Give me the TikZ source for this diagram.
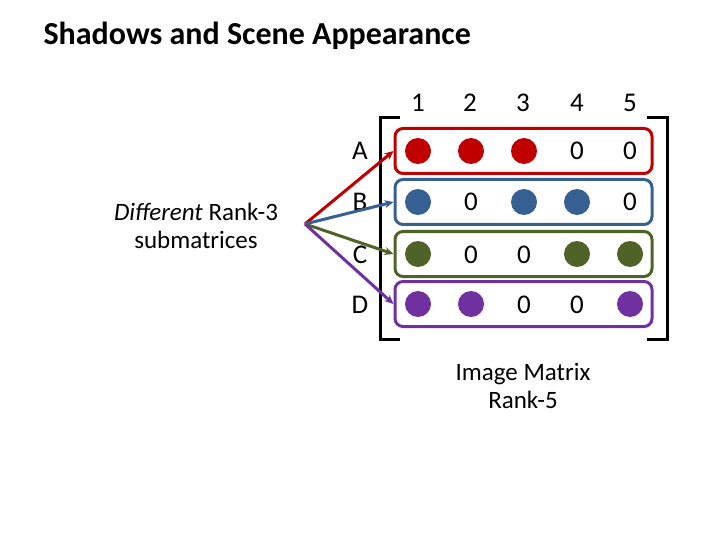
\documentclass[tikz,border=0pt]{standalone}
\usepackage{fontspec}
\setmainfont{Carlito}
\usetikzlibrary{arrows.meta}
\definecolor{rowA}{HTML}{C00000}
\definecolor{rowB}{HTML}{376092}
\definecolor{rowC}{HTML}{4F6228}
\definecolor{rowD}{HTML}{7030A0}
\tikzset{
  cell/.style={font=\fontsize{27}{30}\selectfont, text height=18pt, text depth=0pt, inner sep=0pt},
  dot/.style={circle, minimum size=26pt, inner sep=0pt},
  rowbox/.style={draw, line width=3pt, rounded corners=8pt, minimum width=257pt, minimum height=45pt},
  link/.style={-{Stealth[length=9pt,width=8pt]}, line width=3pt},
  bracket/.style={line width=3pt}
}
\begin{document}
\begin{tikzpicture}[x=1pt, y=-1pt]
    \useasboundingbox (0,0) rectangle (720,540);
    \node (title) [anchor=west, font=\bfseries\fontsize{32}{34}\selectfont] at (40,36) {Shadows and Scene Appearance};

    % Column headers.
    \foreach \c/\x in {1/418, 2/470, 3/523, 4/577, 5/630} {%
        \node (head \c) [cell] at (\x,103) {\c};
    }

    % Rows.
    \foreach \r/\y/\col in {A/151/rowA, B/202/rowB, C/254/rowC, D/304/rowD} {%
        \node (row \r) [rowbox, draw=\col] at (523.5,\y) {};
        \node (name \r) [cell] at (360,\y) {\r};
    }

    % Entries.
    \foreach \r/\y/\col/\entries in {A/151/rowA/{1,1,1,0,0}, B/202/rowB/{1,0,1,1,0},
                                     C/254/rowC/{1,0,0,1,1}, D/304/rowD/{1,1,0,0,1}} {%
        \foreach \e [count=\c] in \entries {%
            \pgfmathsetmacro{\x}{418 + (\c-1)*53}
            \ifnum\e=1
                \node (cell \r\c) [dot, fill=\col] at (\x,\y) {};
            \else
                \node (cell \r\c) [cell] at (\x,\y) {0};
            \fi
        }
    }

    % Brackets.
    \coordinate (bl top) at (400,118);
    \coordinate (bl bot) at (400,339);
    \coordinate (br top) at (647,118);
    \coordinate (br bot) at (647,339);
    \draw [bracket] (bl top) -- ++(-20,0) |- (bl bot);
    \draw [bracket] (br top) -- ++(20,0) |- (br bot);

    % Arrows.
    \node (sub) [align=center, font=\fontsize{25}{28}\selectfont] at (196,226) {\textit{Different} Rank-3\\submatrices};
    \coordinate (fan) at (305,224);
    \foreach \r/\col in {A/rowA, B/rowB, C/rowC, D/rowD} {%
        \draw [link, draw=\col] (fan) -- (row \r.west);
    }

    \node (caption) [align=center, font=\fontsize{25}{28}\selectfont] at (523,386) {Image Matrix\\Rank-5};
\end{tikzpicture}
\end{document}
